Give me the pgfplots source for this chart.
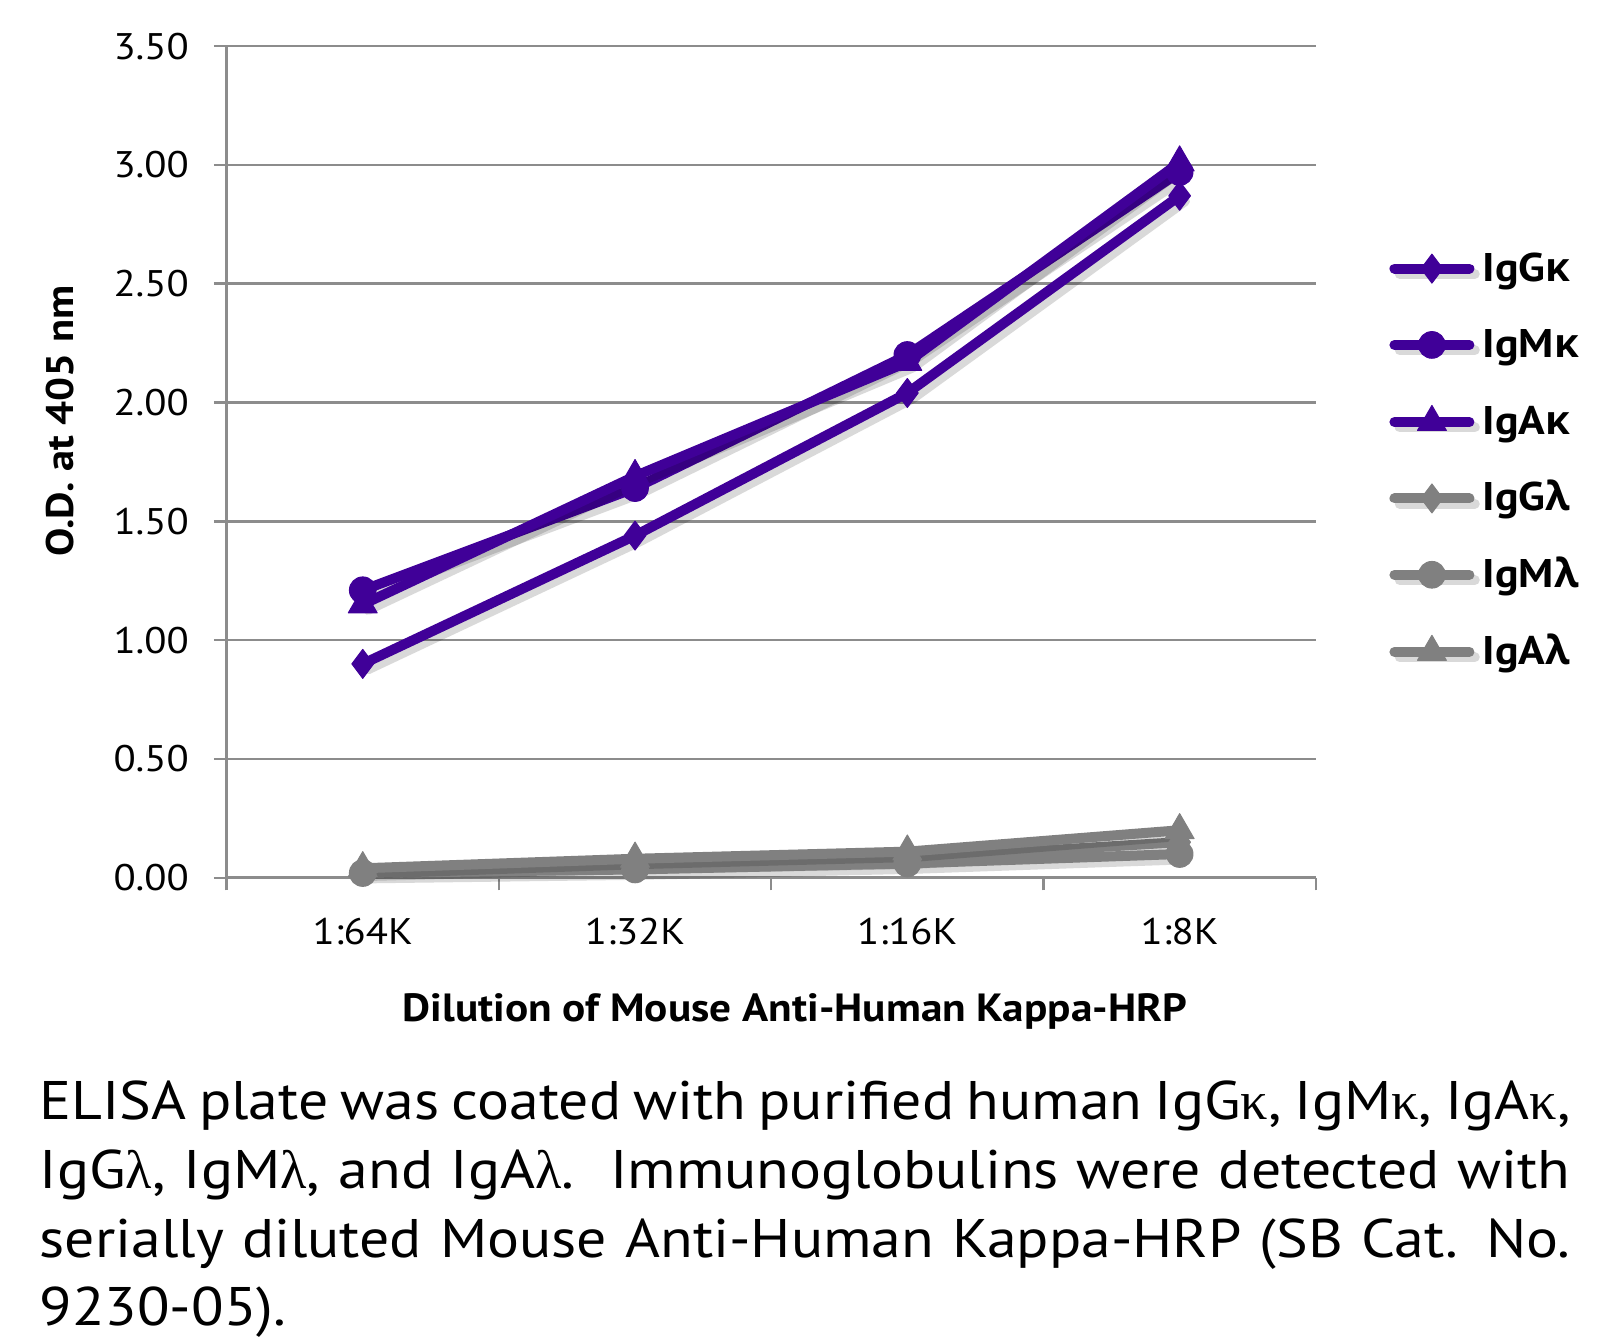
\documentclass[border=0pt]{standalone}
\usepackage{pgfplots}
\pgfplotsset{compat=1.18}
\usepackage{fontspec}
\setmainfont{PT Sans}[FakeStretch=1.1]
\newfontfamily\gk{Open Sans}
\newfontfamily\symgk{Liberation Serif}
\definecolor{purp}{RGB}{64,0,152}
\definecolor{lgray}{RGB}{128,128,128}
\definecolor{gridc}{RGB}{140,140,140}

\begin{document}
\begin{tikzpicture}
\path[use as bounding box] (0,0) rectangle (482.4pt,403.2pt);
\begin{axis}[
    at={(67.98pt,139.86pt)}, anchor=south west,
    scale only axis, width=326.76pt, height=249.51pt,
    xmin=-0.5, xmax=3.5, ymin=0, ymax=3.5,
    axis lines*=left,
    axis line style={draw=gridc, line width=0.9pt},
    clip=false,
    xtick={-0.5,0.5,1.5,2.5,3.5}, xticklabels={},
    extra x ticks={0,1,2,3},
    extra x tick labels={1:64K,1:32K,1:16K,1:8K},
    extra x tick style={major tick length=0pt},
    ytick={0,0.5,1,1.5,2,2.5,3,3.5},
    ymajorgrids,
    major grid style={draw=gridc, line width=0.75pt},
    tick align=outside, major tick length=3.8pt,
    tick style={draw=gridc, line width=0.75pt},
    /pgf/number format/assume math mode=true,
    yticklabel style={xshift=-4pt, /pgf/number format/.cd, fixed, fixed zerofill, precision=2},
    xticklabel style={yshift=-8.6pt},
    ticklabel style={font=\fontsize{11.1}{13}\selectfont},
    xlabel={Dilution of Mouse Anti-Human Kappa-HRP},
    ylabel={O.D. at 405 nm},
    xlabel style={at={(axis description cs:0.5218,-0.1727)}, anchor=base, font=\bfseries\fontsize{11.8}{13}\selectfont},
    ylabel style={at={(axis description cs:-0.1403,0.5492)}, anchor=base, font=\bfseries\fontsize{11.55}{13}\selectfont},
    every axis plot/.append style={line width=3pt, line cap=round, line join=round,
        preaction={draw=black, draw opacity=0.15, transform canvas={xshift=1.6pt,yshift=-1.6pt}}},
    legend style={at={(axis description cs:1.0676,0.7515)}, anchor=north west,
        draw=none, fill=none, inner sep=0pt, outer sep=0pt,
        row sep=11.9pt, column sep=2.5pt,
        nodes={inner sep=0pt, text height=8.5pt, text depth=2.5pt, anchor=base west},
        font=\bfseries\fontsize{12}{13}\selectfont},
    legend cell align=left,
    legend image code/.code={\draw[mark repeat=2, mark phase=2, #1] plot coordinates {(1.5pt,3.75pt) (12.75pt,3.75pt) (24pt,3.75pt)};},
]
\addplot[purp, mark=diamond*, mark size=4.35pt, mark options={solid, line width=0.3pt, fill=purp}]
    coordinates {(0,0.90) (1,1.44) (2,2.04) (3,2.87)};
\addlegendentry{IgG{\gk κ}}
\addplot[purp, mark=*, mark size=4pt, mark options={solid, line width=0.3pt, fill=purp}]
    coordinates {(0,1.21) (1,1.64) (2,2.20) (3,2.97)};
\addlegendentry{IgM{\gk κ}}
\addplot[purp, mark=triangle*, mark size=5pt, mark options={solid, line width=0.3pt, fill=purp}]
    coordinates {(0,1.15) (1,1.69) (2,2.17) (3,3.01)};
\addlegendentry{IgA{\gk κ}}
\addplot[lgray, mark=diamond*, mark size=4.35pt, mark options={solid, line width=0.3pt, fill=lgray}]
    coordinates {(0,0.03) (1,0.06) (2,0.08) (3,0.15)};
\addlegendentry{IgG{\gk λ}}
\addplot[lgray, mark=*, mark size=4pt, mark options={solid, line width=0.3pt, fill=lgray}]
    coordinates {(0,0.02) (1,0.035) (2,0.06) (3,0.10)};
\addlegendentry{IgM{\gk λ}}
\addplot[lgray, mark=triangle*, mark size=5pt, mark options={solid, line width=0.3pt, fill=lgray}]
    coordinates {(0,0.04) (1,0.08) (2,0.11) (3,0.20)};
\addlegendentry{IgA{\gk λ}}
\end{axis}
\node[anchor=base west, inner sep=0pt] at (11.7pt,67.2pt) {\parbox[t]{459.3pt}{\fontsize{16.3}{20.6}\selectfont\hyphenpenalty=10000
ELISA plate was coated with purified human IgG{\symgk κ}, IgM{\symgk κ}, IgA{\symgk κ},\linebreak
IgG{\symgk λ}, IgM{\symgk λ}, and IgA{\symgk λ}.\ \ Immunoglobulins were detected with\linebreak
serially diluted Mouse Anti-Human Kappa-HRP (SB Cat. No.\linebreak
9230-05).}};
\end{tikzpicture}
\end{document}
